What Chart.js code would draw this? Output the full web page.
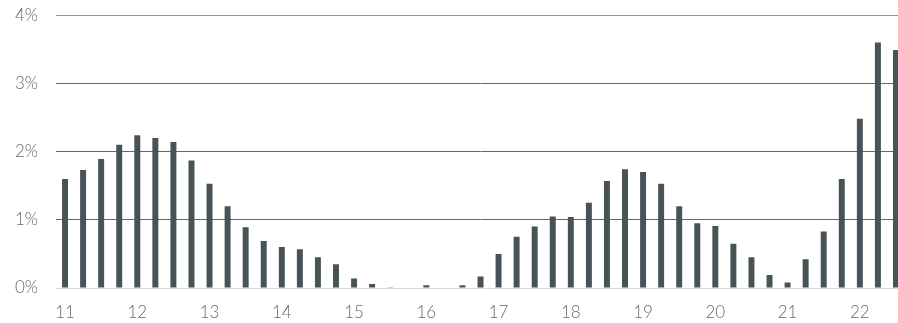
<!DOCTYPE html>
<html>
<head>
<meta charset="utf-8">
<script src="https://cdn.jsdelivr.net/npm/chart.js@4"></script>
<style>
	html, body { margin: 0; padding: 0; background: #fff; overflow: hidden; }
	#wrap { width: 905px; height: 336px; position: absolute; left: 0; top: -13px; }
</style>
</head>
<body>
<div id="wrap"><canvas id="bar-chart"></canvas></div>
<script>
// quarterly, 2011 Q1 .. 2022 Q3
const quarters = []
for (let y = 11; y <= 22; y++) {
	for (let q = 1; q <= 4; q++) {
		if (y === 22 && q === 4) break
		quarters.push(y + ' Q' + q)
	}
}

const values = [
	1.60, 1.73, 1.89, 2.10, 2.24, 2.20, 2.14, 1.87,
	1.53, 1.20, 0.89, 0.69, 0.60, 0.57, 0.45, 0.35,
	0.14, 0.06, 0.01, 0.00, 0.04, 0.00, 0.04, 0.17,
	0.50, 0.75, 0.90, 1.05, 1.04, 1.25, 1.57, 1.74,
	1.70, 1.53, 1.20, 0.95, 0.91, 0.65, 0.45, 0.19,
	0.08, 0.42, 0.83, 1.60, 2.48, 3.60, 3.49
]

const yTicks = [0, 1, 2, 3, 4]

const tickFont = { family: 'Lato', size: 17, weight: 300 }

document.addEventListener('DOMContentLoaded', () => {
	const ctx = document.getElementById('bar-chart')
	new Chart(ctx, {
		type: 'bar',
		data: {
			labels: quarters,
			datasets: [{
				data: values,
				backgroundColor: '#475356',
				barPercentage: 0.66,
				categoryPercentage: 0.5
			}]
		},
		options: {
			responsive: true,
			maintainAspectRatio: false,
			animation: false,
			plugins: {
				legend: { display: false },
				tooltip: { enabled: false }
			},
			scales: {
				x: {
					grid: { display: false },
					border: { display: false },
					ticks: {
						autoSkip: false,
						maxRotation: 0,
						color: '#666b6b',
						font: tickFont,
						padding: 6,
						callback: (v, i) => i % 4 === 0 ? quarters[i].slice(0, 2) : ''
					},
					afterFit: s => { s.height = 35 }
				},
				y: {
					min: 0,
					max: 4,
					afterBuildTicks: s => { s.ticks = yTicks.map(v => ({ value: v })) },
					grid: {
						color: c => c.tick.value === 0 ? '#d6d9d9' : (c.tick.value === 4 ? '#8c9696' : '#5f6b6b'),
						lineWidth: 1,
						drawTicks: false
					},
					border: { display: false },
					ticks: {
						color: '#666b6b',
						font: tickFont,
						padding: 18,
						callback: v => v + '%'
					},
					afterFit: s => { s.width = 56 }
				}
			}
		}
	})
})
</script>
</body>
</html>
